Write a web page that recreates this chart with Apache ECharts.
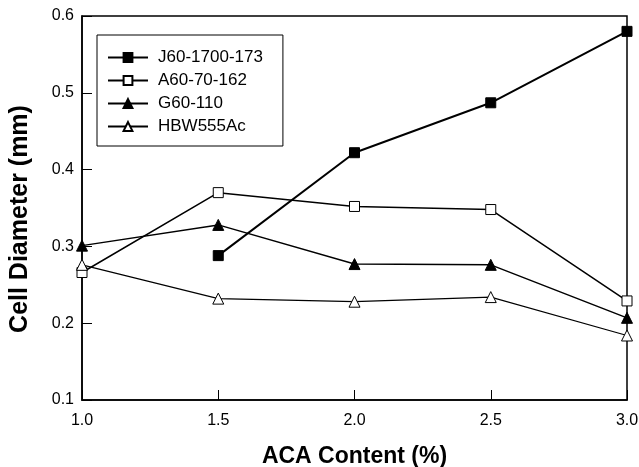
<!DOCTYPE html>
<html>
<head>
<meta charset="utf-8">
<script src="https://cdn.jsdelivr.net/npm/echarts@6/dist/echarts.min.js"></script>
<style>
html, body { margin: 0; padding: 0; background: #fff; }
#chart { width: 639px; height: 467px; }
</style>
</head>
<body>
<div id="chart"></div>
<script>
// ACA content (%)
var xValues = [1.0, 1.5, 2.0, 2.5, 3.0];
// cell diameter (mm) per foam
var j60 = [null, 0.288, 0.422, 0.487, 0.580];
var a60 = [0.266, 0.370, 0.352, 0.348, 0.229];
var g60 = [0.301, 0.328, 0.277, 0.276, 0.207];
var hbw = [0.276, 0.232, 0.228, 0.234, 0.184];
var seriesNames = ['J60-1700-173', 'A60-70-162', 'G60-110', 'HBW555Ac'];

var pairs = function (ys) {
	var out = [];
	for (var i = 0; i < xValues.length; i++) {
		if (ys[i] != null) out.push([xValues[i], ys[i]]);
	}
	return out;
};

var font = 'Liberation Sans, Arial, sans-serif';

var makeSeries = function (name, ys, symbol, filled, width) {
	return {
		name: name,
		type: 'line',
		data: pairs(ys),
		symbol: symbol,
		symbolSize: symbol == 'rect' ? 10 : 11,
		lineStyle: { color: '#000', width: width },
		itemStyle: { color: filled ? '#000' : '#fff', borderColor: '#000', borderWidth: 1 },
		animation: false
	};
};

var myChart = echarts.init(document.getElementById('chart'));
myChart.setOption({
	backgroundColor: '#fff',
	grid: {
		left: 82, right: 12, top: 16, bottom: 67,
		outerBoundsMode: 'none', containLabel: false,
		show: true, borderColor: '#000', borderWidth: 1.5
	},
	legend: {
		orient: 'vertical',
		left: 97, top: 35,
		padding: [14, 20, 11, 10],
		itemGap: 6,
		itemWidth: 40, itemHeight: 11,
		borderColor: '#000', borderWidth: 1,
		backgroundColor: '#fff',
		textStyle: { fontFamily: font, fontSize: 17, color: '#000', padding: [0, 0, 0, 5] },
		data: seriesNames
	},
	xAxis: {
		type: 'value', min: 1, max: 3, interval: 0.5,
		axisLine: { lineStyle: { color: '#000', width: 1.5 } },
		axisTick: { inside: true, length: 10, lineStyle: { color: '#000' } },
		axisLabel: { margin: 13, fontFamily: font, fontSize: 16, color: '#000', formatter: function (v) { return v.toFixed(1); } },
		splitLine: { show: false },
		name: 'ACA Content (%)', nameLocation: 'middle', nameGap: 45,
		nameTextStyle: { fontFamily: font, fontSize: 23, fontWeight: 'bold', color: '#000' }
	},
	yAxis: {
		type: 'value', min: 0.1, max: 0.6, interval: 0.1,
		axisLine: { show: true, lineStyle: { color: '#000', width: 1.5 } },
		axisTick: { show: true, inside: true, length: 10, lineStyle: { color: '#000' } },
		axisLabel: { margin: 8, fontFamily: font, fontSize: 16, color: '#000', formatter: function (v) { return v.toFixed(1); } },
		splitLine: { show: false },
		name: 'Cell Diameter (mm)', nameLocation: 'middle', nameGap: 49,
		nameTextStyle: { fontFamily: font, fontSize: 25, fontWeight: 'bold', color: '#000', padding: [0, 22, 0, 0] }
	},
	series: [
		makeSeries(seriesNames[0], j60, 'rect', true, 2),
		makeSeries(seriesNames[1], a60, 'rect', false, 1.5),
		makeSeries(seriesNames[2], g60, 'triangle', true, 1.5),
		makeSeries(seriesNames[3], hbw, 'triangle', false, 1.2)
	]
});
</script>
</body>
</html>
